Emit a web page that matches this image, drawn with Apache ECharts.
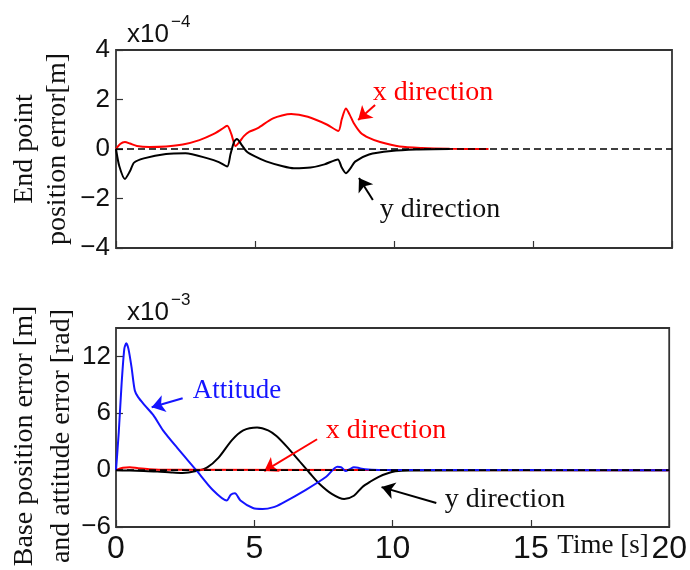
<!DOCTYPE html>
<html>
<head>
<meta charset="utf-8">
<script src="https://cdn.jsdelivr.net/npm/echarts@6/dist/echarts.min.js"></script>
<style>
  html, body { margin: 0; padding: 0; background: #fff; }
  #chart { width: 690px; height: 570px; }
</style>
</head>
<body>
<div id="chart"></div>
<script>
// End point position error (units of 1e-4 m)
const endXTime = [0, 0.15, 0.32, 0.5, 0.75, 1.2, 1.8, 2.4, 3.0, 3.5, 3.8, 4.0, 4.15, 4.3, 4.45, 4.6, 4.8, 5.1, 5.65, 6.3, 6.9, 7.6, 8.0, 8.12, 8.27, 8.4, 8.55, 8.8, 9.1, 9.5, 10.2, 11, 12, 13.4];
const endXVal  = [0, 0.2, 0.28, 0.22, 0.12, 0.08, 0.1, 0.18, 0.36, 0.6, 0.8, 0.94, 0.6, 0.12, 0.3, 0.52, 0.7, 0.84, 1.24, 1.41, 1.3, 0.98, 0.73, 1.2, 1.64, 1.4, 1.05, 0.66, 0.45, 0.28, 0.1, 0.04, 0.01, 0];

const endYTime = [0, 0.12, 0.32, 0.5, 0.65, 1.0, 1.8, 2.5, 3.3, 3.7, 4.0, 4.12, 4.25, 4.35, 4.5, 4.7, 5.0, 5.4, 6.0, 6.4, 7.0, 7.5, 7.98, 8.12, 8.27, 8.42, 8.6, 9.1, 9.9, 10.8, 12];
const endYVal  = [0, -0.7, -1.21, -0.9, -0.55, -0.38, -0.2, -0.17, -0.38, -0.53, -0.71, -0.2, 0.3, 0.4, 0.2, -0.1, -0.3, -0.5, -0.7, -0.78, -0.75, -0.62, -0.42, -0.75, -0.98, -0.8, -0.51, -0.22, -0.08, -0.02, 0];

// Base position error and attitude error (units of 1e-3)
const attTime = [0, 0.1, 0.2, 0.3, 0.37, 0.45, 0.56, 0.68, 0.8, 1.04, 1.35, 1.7, 2.2, 2.9, 3.5, 4.0, 4.15, 4.3, 4.5, 4.95, 5.3, 5.7, 6.0, 6.85, 7.6, 8.0, 8.15, 8.3, 8.45, 8.6, 9.0, 9.5, 20];
const attVal  = [0, 4, 9, 12.8, 13.4, 12.8, 10.9, 8.4, 7.7, 6.84, 5.8, 4.2, 2.4, 0, -2.1, -3.2, -2.6, -2.45, -3.2, -4.0, -4.1, -3.9, -3.5, -2.1, -0.7, 0.35, 0.3, -0.1, 0.1, 0.3, 0.1, 0.02, 0];

const baseYTime = [0, 0.5, 1.0, 1.5, 2.0, 2.4, 2.9, 3.3, 3.7, 4.2, 4.6, 5.1, 5.5, 5.8, 6.2, 6.6, 7.0, 7.34, 7.8, 8.25, 8.6, 8.9, 9.2, 9.5, 9.8, 10.1, 10.6, 20];
const baseYVal  = [0, -0.05, -0.1, -0.15, -0.25, -0.3, -0.1, 0.3, 1.3, 3.2, 4.2, 4.5, 4.2, 3.6, 2.4, 1.05, -0.3, -1.4, -2.5, -3.05, -2.7, -1.8, -1.2, -0.7, -0.35, -0.12, -0.03, 0];

const baseXTime = [0, 0.25, 0.5, 0.8, 1.2, 1.8, 20];
const baseXVal  = [0, 0.25, 0.3, 0.2, 0.1, 0.03, 0];

const timeTicks = [0, 5, 10, 15, 20];
const endTicks = [-4, -2, 0, 2, 4];
const baseTicks = [-6, 0, 6, 12];

const pairs = (t, v) => t.map((x, i) => [x, v[i]]);
const minus = v => String(v).replace('-', '\u2212');

const SANS = 'Liberation Sans';
const SERIF = 'Liberation Serif';
const RED = '#ff0000';
const BLUE = '#1414ff';
const BOX = '#333333';

const chart = echarts.init(document.getElementById('chart'), null, { renderer: 'canvas' });

function arrow(from, to, color) {
  return [{ coord: from, lineStyle: { color: color, width: 2, type: 'solid' } }, { coord: to }];
}

const tickStyle = { show: true, inside: true, length: 7, lineStyle: { color: BOX, width: 1.2 } };

const option = {
  animation: false,
  backgroundColor: '#fff',
  grid: [
    { left: 116, top: 50, width: 556, height: 198, show: true, borderColor: BOX, borderWidth: 1.8, backgroundColor: 'transparent' },
    { left: 116, top: 328, width: 556, height: 199, show: true, borderColor: BOX, borderWidth: 1.8, backgroundColor: 'transparent' }
  ],
  xAxis: [
    {
      gridIndex: 0, type: 'value', min: 0, max: 20, interval: 5, position: 'bottom',
      axisLine: { show: false, onZero: false }, splitLine: { show: false },
      axisTick: tickStyle,
      axisLabel: { show: false }
    },
    {
      gridIndex: 1, type: 'value', min: 0, max: 20, interval: 5, position: 'bottom',
      axisLine: { show: false, onZero: false }, splitLine: { show: false },
      axisTick: tickStyle,
      axisLabel: { show: true, margin: 6, fontFamily: SANS, fontSize: 32, color: '#111',
        formatter: v => timeTicks.includes(v) ? minus(v) : '' }
    }
  ],
  yAxis: [
    {
      gridIndex: 0, type: 'value', min: -4, max: 4, interval: 2, position: 'left',
      axisLine: { show: false, onZero: false }, splitLine: { show: false },
      axisTick: tickStyle,
      axisLabel: { show: true, margin: 6, fontFamily: SANS, fontSize: 26, color: '#111',
        formatter: v => endTicks.includes(v) ? minus(v) : '' }
    },
    {
      gridIndex: 1, type: 'value', min: -6, max: 15, interval: 6, position: 'left',
      axisLine: { show: false, onZero: false }, splitLine: { show: false },
      axisTick: tickStyle,
      axisLabel: { show: true, margin: 5, fontFamily: SANS, fontSize: 26, color: '#111', showMaxLabel: false,
        formatter: v => baseTicks.includes(v) ? minus(v) : '' }
    }
  ],
  series: [
    {
      name: 'x direction', type: 'line', xAxisIndex: 0, yAxisIndex: 0,
      data: pairs(endXTime, endXVal), showSymbol: false, smooth: 0.25,
      lineStyle: { color: RED, width: 2 }, z: 2,
      markLine: {
        silent: true, symbol: ['none', 'arrow'], symbolSize: 13, label: { show: false },
        data: [ arrow([9.32, 1.78], [8.71, 1.17], RED) ]
      }
    },
    {
      name: 'y direction', type: 'line', xAxisIndex: 0, yAxisIndex: 0,
      data: pairs(endYTime, endYVal), showSymbol: false, smooth: 0.25,
      lineStyle: { color: '#000', width: 2 }, z: 3,
      markLine: {
        silent: true, symbol: ['none', 'arrow'], symbolSize: 13, label: { show: false },
        data: [ arrow([9.24, -2.06], [8.74, -1.17], '#000') ]
      }
    },
    {
      name: 'zero', type: 'line', xAxisIndex: 0, yAxisIndex: 0,
      data: [[0, 0], [20, 0]], showSymbol: false,
      lineStyle: { color: '#000', width: 1.6, type: [7, 4] }, z: 5
    },
    {
      name: 'y direction', type: 'line', xAxisIndex: 1, yAxisIndex: 1,
      data: pairs(baseYTime, baseYVal), showSymbol: false, smooth: 0.3,
      lineStyle: { color: '#000', width: 2 }, z: 2,
      markLine: {
        silent: true, symbol: ['none', 'arrow'], symbolSize: 13, label: { show: false },
        data: [ arrow([11.58, -3.47], [9.6, -1.79], '#000') ]
      }
    },
    {
      name: 'x direction', type: 'line', xAxisIndex: 1, yAxisIndex: 1,
      data: pairs(baseXTime, baseXVal), showSymbol: false, smooth: 0.3,
      lineStyle: { color: RED, width: 2 }, z: 3,
      markLine: {
        silent: true, symbol: ['none', 'arrow'], symbolSize: 13, label: { show: false },
        data: [ arrow([7.27, 3.26], [5.36, -0.1], RED) ]
      }
    },
    {
      name: 'Attitude', type: 'line', xAxisIndex: 1, yAxisIndex: 1,
      data: pairs(attTime, attVal), showSymbol: false, smooth: 0.25,
      lineStyle: { color: BLUE, width: 2 }, z: 4,
      markLine: {
        silent: true, symbol: ['none', 'arrow'], symbolSize: 13, label: { show: false },
        data: [ arrow([2.41, 7.58], [1.29, 6.63], BLUE) ]
      }
    },
    {
      name: 'zero', type: 'line', xAxisIndex: 1, yAxisIndex: 1,
      data: [[0, 0], [20, 0]], showSymbol: false,
      lineStyle: { color: '#000', width: 1.6, type: [7, 4] }, z: 5
    }
  ],
  graphic: [
    // exponent labels
    { type: 'text', x: 127, y: 35, style: { text: 'x10', font: '26px "' + SANS + '"', fill: '#111', textVerticalAlign: 'middle' } },
    { type: 'text', x: 171, y: 22, style: { text: '\u22124', font: '17px "' + SANS + '"', fill: '#111', textVerticalAlign: 'middle' } },
    { type: 'text', x: 127, y: 313, style: { text: 'x10', font: '26px "' + SANS + '"', fill: '#111', textVerticalAlign: 'middle' } },
    { type: 'text', x: 171, y: 300, style: { text: '\u22123', font: '17px "' + SANS + '"', fill: '#111', textVerticalAlign: 'middle' } },
    // y-axis titles
    { type: 'text', x: 25, y: 149, rotation: Math.PI / 2,
      style: { text: 'End point', font: '28px "' + SERIF + '"', fill: '#111', textAlign: 'center', textVerticalAlign: 'middle' } },
    { type: 'text', x: 58, y: 149, rotation: Math.PI / 2,
      style: { text: 'position error[m]', font: '28px "' + SERIF + '"', fill: '#111', textAlign: 'center', textVerticalAlign: 'middle' } },
    { type: 'text', x: 25, y: 436, rotation: Math.PI / 2,
      style: { text: 'Base position error [m]', font: '28px "' + SERIF + '"', fill: '#111', textAlign: 'center', textVerticalAlign: 'middle' } },
    { type: 'text', x: 62, y: 436, rotation: Math.PI / 2,
      style: { text: 'and attitude error [rad]', font: '28px "' + SERIF + '"', fill: '#111', textAlign: 'center', textVerticalAlign: 'middle' } },
    // x-axis title
    { type: 'text', x: 603, y: 546,
      style: { text: 'Time [s]', font: '27px "' + SERIF + '"', fill: '#111', textAlign: 'center', textVerticalAlign: 'middle' } },
    // curve annotations
    { type: 'text', x: 433, y: 93,
      style: { text: 'x direction', font: '28px "' + SERIF + '"', fill: RED, textAlign: 'center', textVerticalAlign: 'middle' } },
    { type: 'text', x: 440, y: 210,
      style: { text: 'y direction', font: '28px "' + SERIF + '"', fill: '#111', textAlign: 'center', textVerticalAlign: 'middle' } },
    { type: 'text', x: 237, y: 391,
      style: { text: 'Attitude', font: '27px "' + SERIF + '"', fill: BLUE, textAlign: 'center', textVerticalAlign: 'middle' } },
    { type: 'text', x: 386, y: 431,
      style: { text: 'x direction', font: '28px "' + SERIF + '"', fill: RED, textAlign: 'center', textVerticalAlign: 'middle' } },
    { type: 'text', x: 505, y: 500,
      style: { text: 'y direction', font: '28px "' + SERIF + '"', fill: '#111', textAlign: 'center', textVerticalAlign: 'middle' } }
  ]
};

chart.setOption(option);
</script>
</body>
</html>
